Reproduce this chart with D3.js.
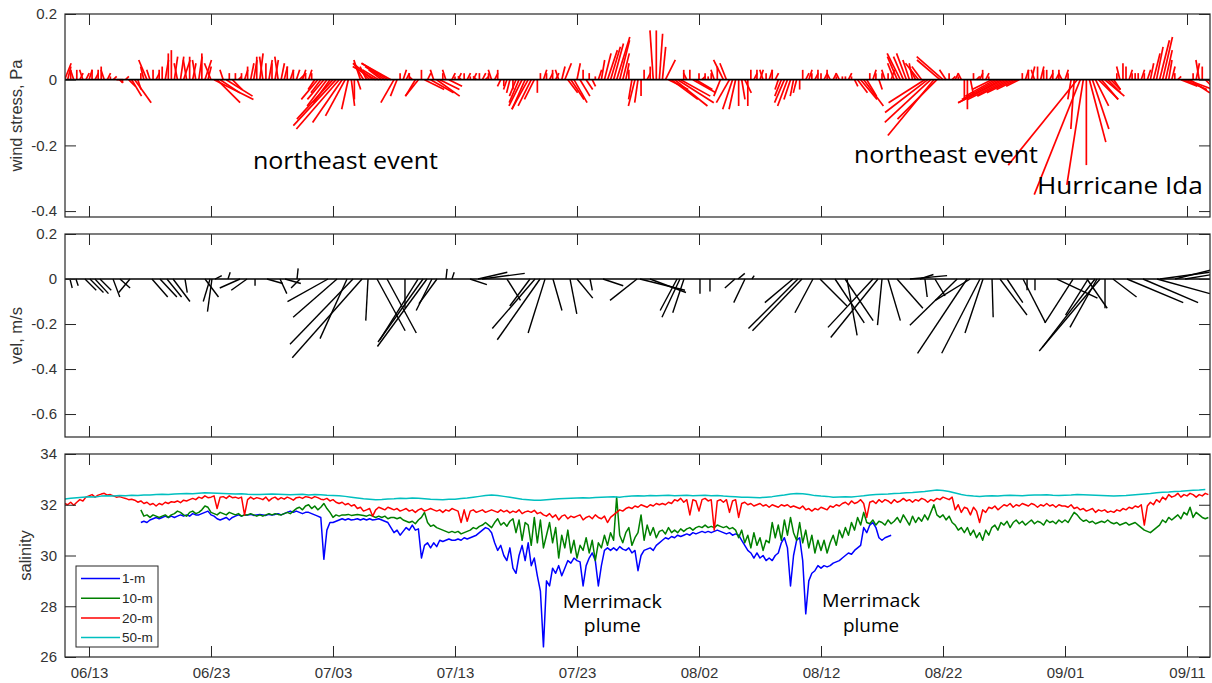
<!DOCTYPE html>
<html lang="en">
  <head>
    <meta charset="UTF-8" />
    <title>Wind stress, velocity and salinity</title>
    <script src="https://cdnjs.cloudflare.com/ajax/libs/d3/7.8.5/d3.min.js"></script>
    <style>
      body { margin: 0; background: #fff; }
      svg text { font-family: "Liberation Sans", Arial, sans-serif; }
      .note { font-family: "Open Sans", sans-serif; fill: #000; }
    </style>
  </head>
  <body>
    <div id="chart"></div>
    <script>
      // days are counted from 2021-06-11 00:00 UTC
      const tickDays = [2, 12, 22, 32, 42, 52, 62, 72, 82, 92];

      // wind stress sticks, every 6 h from day 0, hundredths of Pa
      const windStep = 0.25;
      const windU = [
        2,1,0,-1, 0,1,-1,1, 1,0,1,0, 0,-1,1,0, 1,2,1,0,
        1,2,3,5, 1,0,-1,-2.5, -1,0,1,0, 0,1,0,0, 1,-1,1,2,
        -1,0,1,-1, 1,0,2,1, -2,12,7,6, -1,8,0,3, 0,1,0,1,
        0,1,1,0, 1,-1,0,1, 0,1,-1,1, 1,0,1,0, 1,2,1,0,
        1,0,-2,-5, -3,-5,-6,-5, -11,-13,-13,-9, -6,-2,1,0, 1,-2,-3,-2,
        -3,-6,-7,-5, -4,-6,-8,-9, -4,-2,0,1, 1,0,-1,-3, -4,0,6,1,
        7,-1,7,6, 0,-1,4,1, 0,1,-1,0, 1,0,1,-1, 0,1,1,0,
        -1,1,0,-1, 0,-1,-1,0, -2,-3,-4,-4, -5,-4,-3,0, 0,1,0,1,
        0,1,-1,1, 2,3,4,4, 1,3,0,2, 0,1,0,1, 1,2,3,3,
        3,4,3,2, 1,0,-1,-2, -1,0,0,1, 0,-1,0,1, 1,3,6,8,
        10,11,9,0, -1,0,7,5, 0,1,0,0, 0,-1,0,-2, -3,-2,-4,-3,
        -2,0,1,2, 0,0,1,0, 1,-1,0,1, 0,1,-1,-2, -3,-3,-2,-1,
        -1,0,0,1, 1,0,1,0, 0,1,0,-1, 1,0,-1,0, 0,1,0,1,
        3,5,6,3, 0,1,0,1, 0,-1,0,1, -2,-3,-4,-3, -3,-2,-1,-2,
        -4,-3,-11,-13, -14,-14,-12,-7, -8,-2,0,1, 1,0,-1,0, 0,1,0,1,
        1,0,1,0, -6,-9,-11,-13, -14,-12,-10,-8, -6,-4,0,1, 0,1,-1,0,
        1,0,0,1, 0,1,0,-1, 1,0,-1,-1, -21,-14,-5,0, 5,5,4,6,
        5,6,4,3, 2,0,-1,0, 0,1,0,0, 0,1,0,1, 1,2,2,3,
        3,2,1,1, 0,1,5,7, 8,6,0,1, -1,0,3,2
      ];
      const windV = [
        5,4,3,3, 3,2,3,2, 3,3,2,3, 4,3,2,1, 1,0,-1,-1,
        1,-2,-5,-7, -3,2,4,6, 3,3,2,3, 4,6,8,9, 7,5,7,6,
        6,7,5,6, 7,8,6,4, 5,-6,-7,-4, 3,-5,2,-3, 2,1,2,3,
        4,5,6,7, 8,7,5,6, 5,6,7,5, 4,4,3,3, 3,2,3,2,
        3,2,-3,-6, -4,-6,-8,-7, -12,-14,-15,-13, -11,-9,-8,-6, -3,6,5,4,
        3,5,4,3, 3,4,5,5, -7,-5,2,3, 2,2,1,-5, -5,3,-3,2,
        -4,3,-5,-3, 2,3,-2,2, 1,2,1,2, 2,1,2,1, 2,2,1,2,
        3,2,3,-2, -2,-3,-4,-3, -5,-7,-8,-9, -9,-8,-6,-4, 2,3,2,2,
        3,2,3,4, 5,-4,-6,-7, 5,-5,3,-3, 2,-2,1,3, 6,8,9,10,
        11,13,12,8, 5,3,-6,-8, -7,-5,3,2, 4,15,15,14, 10,6,-3,-6,
        -8,-7,-5,3, 2,3,-4,-3, 2,1,2,1, 2,3,4,-5, 6,5,-7,-9,
        -9,-8,-6,-4, -8,3,2,3, 3,3,2,3, 3,2,-3,-5, -7,-8,-6,-5,
        -4,-3,3,2, 3,2,2,3, 2,2,3,2, 2,1,2,1, 1,2,1,-2,
        -4,-6,-8,-5, 2,3,2,-3, 2,3,2,3, 5,7,8,7, 8,6,5,4,
        5,4,-7,-10, -13,-17,-12,6, 7,3,2,1, 2,1,2,-6, -9,-5,2,1,
        2,3,2,1, -3,-5,-6,-7, -7,-6,-5,-4, -3,-2,2,3, 3,4,3,4,
        4,3,3,2, 3,2,3,2, 3,2,-6,-15, -26,-35,-32,-26, -19,-15,-8,-6,
        -6,-5,-4,-3, -3,2,4,5, 4,3,2,2, 2,3,2,3, 5,8,10,12,
        13,9,6,4, 2,1,-2,-3, -3,-4,2,5, 6,4,-3,-2
      ];

      // current velocity sticks, cm/s
      const velDay = [
        0.44,0.93,1.67,2.08,2.49,2.9,3.97,4.54,5.36,7.16,7.82,8.39,8.89,9.87,
        11.51,11.92,12.08,12.33,13.39,14.38,14.95,15.61,16.59,17.66,18.07,19.05,19.3,
        21.59,22.33,23.15,23.64,24.38,24.87,25.61,26.43,27.9,28.97,29.38,29.7,30.11,30.52,
        31.26,31.75,33.23,33.89,34.21,36.26,38.15,38.56,38.97,39.38,40.03,41.43,42.0,43.07,
        44.13,46.92,47.16,47.98,50.2,50.44,50.77,52.08,52.9,54.95,55.2,55.77,56.34,
        59.7,60.11,60.44,61.34,61.92,63.15,63.97,64.13,66.26,66.67,67.0,67.49,68.23,
        69.29,70.11,70.52,71.34,73.16,73.97,74.23,75.03,75.28,76.02,76.67,77.25,
        78.56,78.89,79.54,81.34,82.66,83.89,83.8,84.46,84.62,84.87,85.28,85.93,
        87.08,88.39,89.54,89.79,91.02,91.84
      ];
      const velU = [
        1,1,5,6,6,5,3,4.5,-5,7,7.5,6.5,7.5,1,
        6,-3,-2,3,1,-9,-7,0,7,3,7,0.5,-4,
        -18,-19.5,-12,-28,-31,-1,12.5,13,0,-17,-20,-22,-7,-8,
        0.5,1,7.5,13,19,6,-9,-19,-19,-7.5,4,3,7,1,
        9,-12,20,16,-7.5,-8,-5,0,0,-4.5,3,-5,1,
        -12.5,-22,-22,-8,12,13,12.5,4.5,-20,-21,-2,5.5,11.5,
        16.5,6,1,4.5,-21,-22,-15.5,-17,-8,0.5,12,7,
        10,0,0,18,-12.5,-10,9,-23.5,-12,-27,0,10.5,
        25,24.5,23.5,22,16,12
      ];
      const velV = [
        -4,-3,-5,-6,-6.5,-5,-8,-4,-6,-8,-8,-8,-10,-6,
        -8,-10,-14.5,1.5,3,-4,-5,-3,-2,-6.5,-2,4.7,-4,
        -10,-17,-26.5,-29,-35,-18.5,-23,-24,-13,-27,-28,-30,-14,-11,
        4.5,3,-2.5,3,2.5,-9.5,-12,-22,-27,-24,-14,-15.5,-8.5,-5,
        -3,-9.5,-5,-6,-14,-17,-15,-6.5,-5.5,-4,2.5,-10.5,1.5,
        -10.5,-22,-23,-15,-12,-19.5,-18.5,-25,-21.5,-26,-20.5,-18.5,-13,
        1.5,2,-8,-7.5,-20.5,-33,-9.5,-33,-24,-17,-16,-10.5,
        -19.5,-5,-5,-8.5,-19.5,-16,-13,-30.5,-21.5,-32,-13,-8,
        -10.5,-10.5,-6.5,3,4,2
      ];

      // salinity, every 6 h (50-m every 12 h)
      const salStart1 = 6.25;
      const sal1 = [
        31.3,31.35,31.3,
        31.4,31.45,31.5,31.45, 31.5,31.55,31.5,31.55, 31.5,31.55,31.6,31.55,
        31.6,31.55,31.65,31.6, 31.6,31.65,31.7,31.75, 31.6,31.55,31.45,31.4, 31.45,31.5,31.4,31.5, 31.55,31.6,31.55,31.6,
        31.6,31.62,31.58,31.6, 31.62,31.6,31.58,31.62, 31.6,31.62,31.65,31.6, 31.65,31.7,31.75,31.7, 31.75,31.7,31.65,31.7,
        31.7,31.65,31.6,31.55, 31.5,29.85,31.0,31.3, 31.3,31.35,31.4,31.45, 31.4,31.45,31.4,31.42, 31.45,31.4,31.45,31.4,
        31.45,31.4,31.42,31.45, 31.4,31.35,31.3,31.1, 30.9,31.0,30.8,30.95, 31.1,31.0,31.2,31.0, 31.05,29.9,30.4,30.5,
        30.3,30.5,30.35,30.6, 30.55,30.6,30.65,30.6, 30.6,30.65,30.6,30.7, 30.65,30.7,30.75,30.8, 30.9,31.0,31.1,31.05,
        30.9,30.5,30.2,30.4, 30.0,29.8,30.3,29.5, 29.3,30.0,30.4,29.8, 30.5,29.6,29.9,29.2, 28.6,26.4,29.0,28.8,
        29.5,29.3,29.6,29.2, 29.5,29.8,29.7,29.9, 29.8,29.75,28.8,29.6, 29.9,30.1,29.8,28.8, 29.6,30.2,30.3,30.2,
        30.3,30.2,30.35,30.25, 30.2,30.3,30.1,30.2, 29.4,30.0,30.2,30.25, 30.3,30.2,30.4,30.5, 30.6,30.7,30.65,30.75,
        30.7,30.8,30.75,30.8, 30.85,30.8,30.9,30.85, 30.9,30.95,30.9,30.95, 30.9,30.95,31.0,30.95, 30.9,30.85,30.9,30.8,
        30.85,30.8,30.6,30.4, 30.2,30.1,29.9,30.1, 29.9,30.0,29.8,29.9, 29.8,30.0,30.1,30.5, 30.7,30.3,28.8,30.0,
        30.6,30.7,29.8,27.7, 29.0,29.3,29.4,29.6, 29.5,29.6,29.55,29.6, 29.7,29.75,29.8,29.9, 30.0,30.1,30.05,30.2,
        30.3,30.4,31.1,30.9, 31.2,31.3,31.1,30.7, 30.6,30.7,30.75,30.8
      ];
      const salStart10 = 6.25;
      const sal10 = [
        31.8,31.55,31.6,
        31.5,31.6,31.55,31.5, 31.55,31.6,31.5,31.6, 31.65,31.75,31.7,31.6,
        31.55,31.7,31.75,31.65, 31.7,31.8,31.95,31.9, 31.7,31.65,31.6,31.7, 31.65,31.6,31.7,31.65, 31.6,31.65,31.55,31.6,
        31.6,31.65,31.6,31.55, 31.6,31.55,31.6,31.65, 31.6,31.65,31.62,31.6, 31.65,31.7,31.65,31.75, 31.85,31.9,31.8,31.95,
        32.0,31.85,31.95,31.8, 31.9,32.05,31.85,31.7, 31.5,31.6,31.55,31.6, 31.6,31.62,31.58,31.6, 31.62,31.6,31.58,31.55,
        31.6,31.55,31.5,31.55, 31.5,31.55,31.45,31.5, 31.5,31.45,31.5,31.4, 31.35,31.3,31.35,31.25, 31.4,31.5,31.7,31.3,
        31.15,31.2,31.1,31.05, 31.0,30.95,30.9,30.95, 30.9,30.95,30.85,30.9, 30.95,31.0,31.1,31.05, 31.15,31.2,31.3,31.2,
        31.1,31.3,31.45,31.2, 31.3,31.15,31.35,31.45, 30.9,31.4,30.6,31.3, 31.2,30.4,31.5,30.5, 31.4,30.3,30.8,31.3,
        30.5,31.1,29.9,30.8, 30.3,31.0,30.1,30.6, 29.9,30.4,30.2,30.7, 30.1,30.6,29.8,30.5, 30.3,30.8,30.4,30.9,
        30.6,32.3,30.8,30.5, 30.9,31.1,30.4,30.7, 30.9,31.6,30.6,31.2, 30.8,31.1,30.7,30.95, 31.0,30.85,31.1,30.9,
        31.0,30.9,31.05,30.95, 31.05,31.1,31.0,31.1, 31.15,31.1,31.2,31.1, 31.15,31.1,31.2,31.15, 31.1,31.15,31.05,31.1,
        31.0,30.7,31.0,30.5, 30.8,30.3,30.9,30.4, 30.7,30.2,30.6,30.5, 31.3,30.7,31.2,30.6, 31.4,30.8,31.5,30.9,
        30.6,31.3,30.5,31.0, 30.3,30.8,30.1,30.6, 30.2,30.6,30.1,30.5, 30.8,30.4,31.0,30.7, 31.1,30.8,31.3,31.0,
        31.5,31.2,31.7,31.3, 31.25,31.4,31.2,31.35, 31.3,31.2,31.4,31.25, 31.35,31.5,31.3,31.6, 31.4,31.2,31.55,31.3,
        31.5,31.35,31.6,31.4, 31.7,32.0,31.6,31.5, 31.6,31.4,31.55,31.3, 31.2,31.0,31.1,30.9, 31.1,30.8,31.0,30.7,
        30.9,30.6,31.0,30.8, 31.1,31.2,31.0,31.3, 31.2,31.35,31.1,31.3, 31.4,31.25,31.35,31.2, 31.3,31.4,31.25,31.35,
        31.3,31.2,31.4,31.3, 31.35,31.25,31.4,31.3, 31.4,31.3,31.5,31.7, 31.6,31.45,31.35,31.4, 31.3,31.35,31.25,31.3,
        31.35,31.3,31.4,31.3, 31.25,31.3,31.2,31.25, 31.3,31.2,31.25,31.3, 31.2,31.1,31.0,30.95, 30.9,31.0,31.1,31.2,
        31.4,31.3,31.5,31.4, 31.5,31.6,31.45,31.7, 31.6,31.9,31.5,31.7, 31.6,31.5,31.45,31.5
      ];
      const salStart20 = 0;
      const sal20 = [
        32.05,32.0,32.1,31.98, 32.1,32.2,32.15,32.3, 32.35,32.4,32.3,32.38, 32.42,32.45,32.38,32.4, 32.35,32.3,32.32,32.28,
        32.25,32.2,32.22,32.18, 32.1,32.15,32.05,32.1, 32.0,32.05,31.95,32.05, 32.0,32.1,32.05,32.12, 32.1,32.15,32.08,32.18,
        32.15,32.2,32.25,32.2, 32.3,32.25,32.35,32.28, 32.3,32.35,31.85,32.3, 32.32,32.25,32.35,32.28, 32.3,32.25,32.3,31.6,
        32.2,32.3,32.22,32.28, 32.25,32.2,32.3,32.15, 32.25,32.3,32.2,32.28, 32.22,32.3,32.25,32.18, 32.28,32.3,32.25,32.32,
        32.3,32.25,32.32,32.28, 32.22,32.2,32.25,32.15, 32.2,32.1,32.05,32.1, 32.0,32.05,31.95,32.0, 31.85,31.9,31.75,31.8,
        31.85,31.55,31.8,31.9, 31.85,31.8,31.9,31.85, 31.8,31.85,31.75,31.8, 31.85,31.75,31.8,31.7, 31.8,31.85,31.75,31.8,
        31.85,31.8,31.75,31.8, 31.7,31.8,31.75,31.85, 31.8,31.75,31.3,31.8, 31.35,31.75,31.8,31.7, 31.75,31.8,31.7,31.75,
        31.8,31.75,31.7,31.8, 31.72,31.78,31.68,31.75, 31.7,31.8,31.65,31.72, 31.75,31.7,31.78,31.65, 31.7,31.6,31.55,31.65,
        31.5,31.6,31.4,31.55, 31.6,31.45,31.55,31.5, 31.55,31.6,31.4,31.5, 31.55,31.45,31.6,31.5, 31.45,31.55,31.3,31.5,
        31.6,31.7,31.8,31.75, 31.85,31.9,31.85,31.95, 31.9,32.0,31.95,31.9, 32.0,31.95,32.05,32.0, 32.05,32.0,32.1,32.05,
        32.2,32.15,32.25,32.1, 32.2,31.6,32.2,32.15, 31.75,32.2,32.25,32.15, 32.2,31.0,32.15,32.2, 32.1,32.2,31.7,32.15,
        32.2,31.5,32.05,32.1, 32.0,32.05,31.95,32.0, 32.05,31.95,32.0,31.9, 32.0,31.95,31.9,32.0, 31.95,32.0,31.9,31.95,
        31.9,31.85,31.95,31.8, 31.85,31.75,31.85,31.8, 31.9,31.85,31.8,31.95, 31.9,32.0,31.95,32.05, 32.1,32.0,32.15,32.05,
        32.1,32.2,32.05,31.5, 32.1,32.15,32.05,32.2, 32.1,32.2,32.15,32.05, 32.2,32.1,32.15,32.25, 32.15,32.2,32.1,32.2,
        32.15,32.25,32.2,32.1, 32.2,32.15,32.25,32.2, 32.3,32.25,32.2,32.3, 31.8,32.0,31.7,31.9, 31.85,31.6,31.9,31.75,
        31.3,31.8,31.7,31.9, 31.85,31.95,31.8,31.9, 32.0,31.95,32.05,31.9, 32.0,31.95,32.05,32.0, 31.95,32.05,32.0,31.9,
        32.0,31.95,32.05,31.95, 32.0,31.9,32.0,31.95, 31.95,31.9,32.0,31.85, 31.9,31.8,31.85,31.75, 31.8,31.85,31.7,31.8,
        31.75,31.8,31.7,31.75, 31.7,31.8,31.75,31.85, 31.8,31.9,31.85,31.95, 31.9,32.0,31.2,31.95, 32.1,32.0,32.2,32.1,
        32.3,32.2,32.4,32.3, 32.35,32.45,32.3,32.4, 32.35,32.45,32.4,32.3, 32.4,32.35,32.45,32.4
      ];
      const salStart50 = 0;
      const sal50 = [
        32.22,32.26, 32.28,32.30, 32.32,32.31, 32.34,32.35, 32.34,32.36,
        32.35,32.37, 32.36,32.38, 32.38,32.40, 32.41,32.40, 32.42,32.43,
        32.44,32.43, 32.45,32.47, 32.46,32.45, 32.44,32.43, 32.42,32.43,
        32.41,32.40, 32.40,32.41, 32.42,32.41, 32.40,32.39, 32.40,32.41,
        32.38,32.40, 32.39,32.37, 32.36,32.35, 32.33,32.30, 32.27,32.24,
        32.22,32.20, 32.21,32.23, 32.24,32.26, 32.25,32.27, 32.26,32.24,
        32.22,32.21, 32.20,32.22, 32.22,32.25, 32.27,32.30, 32.33,32.36,
        32.38,32.36, 32.33,32.30, 32.26,32.22, 32.20,32.18, 32.18,32.20,
        32.22,32.24, 32.25,32.26, 32.27,32.28, 32.27,32.29, 32.30,32.31,
        32.32,32.30, 32.33,32.34, 32.35,32.34, 32.36,32.35, 32.36,32.37,
        32.35,32.36, 32.37,32.35, 32.36,32.37, 32.35,32.36, 32.34,32.33,
        32.32,32.30, 32.30,32.29, 32.28,32.30, 32.32,32.35, 32.38,32.42,
        32.44,32.43, 32.40,32.36, 32.34,32.33, 32.30,32.31, 32.32,32.31,
        32.33,32.35, 32.38,32.40, 32.41,32.42, 32.44,32.45, 32.47,32.48,
        32.50,32.52, 32.55,32.58, 32.56,32.52, 32.46,32.40, 32.36,32.34,
        32.33,32.34, 32.35,32.34, 32.36,32.37, 32.36,32.35, 32.37,32.38,
        32.38,32.39, 32.37,32.36, 32.37,32.38, 32.40,32.39, 32.38,32.37,
        32.36,32.35, 32.34,32.35, 32.36,32.38, 32.40,32.42, 32.44,32.47,
        32.49,32.50, 32.52,32.53, 32.55,32.57, 32.58,32.60
      ];

      const seriesNames = ["1-m", "10-m", "20-m", "50-m"];
      const seriesColors = ["#0000ff", "#008000", "#ff0000", "#00bfbf"];

      const width = 1212;
      const height = 683;
      const left = 65;
      const right = 1210;

      const t0 = Date.UTC(2021, 5, 11);
      const toDate = (d) => new Date(t0 + d * 864e5);
      const x = d3.scaleUtc().domain([toDate(0.033), toDate(93.885)]).range([left, right]);
      const tickDates = tickDays.map(toDate);

      const svg = d3.select("#chart").append("svg")
        .attr("width", width).attr("height", height);

      const axisColor = "#262626";
      const yFmt = (d) => String(d);

      function panel(top, bottom, domain, ticks, label, labelX, showDates, id) {
        const y = d3.scaleLinear().domain(domain).range([bottom, top]);
        svg.append("clipPath").attr("id", id)
          .append("rect").attr("x", left).attr("y", top)
          .attr("width", right - left).attr("height", bottom - top);
        const plot = svg.append("g").attr("clip-path", `url(#${id})`);

        const style = (g) => {
          g.attr("font-size", 15).attr("font-family", "Liberation Sans, Arial, sans-serif")
            .attr("color", axisColor);
          g.select(".domain").remove();
          g.selectAll("text").attr("fill", "#333");
        };
        svg.append("g").attr("transform", `translate(${left},0)`)
          .call(d3.axisLeft(y).tickValues(ticks).tickSize(-11).tickSizeOuter(0).tickPadding(8).tickFormat(yFmt))
          .call(style);
        svg.append("g").attr("transform", `translate(${right},0)`)
          .call(d3.axisRight(y).tickValues(ticks).tickSize(-11).tickSizeOuter(0).tickFormat(""))
          .call(style);
        svg.append("g").attr("transform", `translate(0,${top})`)
          .call(d3.axisTop(x).tickValues(tickDates).tickSize(-11).tickSizeOuter(0).tickFormat(""))
          .call(style);
        svg.append("g").attr("transform", `translate(0,${bottom})`)
          .call(d3.axisBottom(x).tickValues(tickDates).tickSize(-11).tickSizeOuter(0).tickPadding(10)
            .tickFormat(showDates ? d3.utcFormat("%m/%d") : ""))
          .call(style);

        svg.append("rect")
          .attr("x", left).attr("y", top)
          .attr("width", right - left).attr("height", bottom - top)
          .attr("fill", "none").attr("stroke", axisColor).attr("stroke-width", 1.2);

        svg.append("text")
          .attr("transform", `translate(${labelX},${(top + bottom) / 2}) rotate(-90)`)
          .attr("text-anchor", "middle")
          .attr("font-size", 16.5)
          .attr("fill", "#333")
          .text(label);

        return { y, plot };
      }

      function sticks(p, t, u, v, color, lw) {
        const k = p.y(0) - p.y(1);
        p.plot.append("g").selectAll("line")
          .data(d3.range(u.length))
          .join("line")
          .attr("x1", (i) => x(toDate(t(i))))
          .attr("y1", p.y(0))
          .attr("x2", (i) => x(toDate(t(i))) + (u[i] / 100) * k)
          .attr("y2", (i) => p.y(v[i] / 100))
          .attr("stroke", color)
          .attr("stroke-width", lw);
        p.plot.append("line")
          .attr("x1", left).attr("x2", right)
          .attr("y1", p.y(0)).attr("y2", p.y(0))
          .attr("stroke", "#000").attr("stroke-width", 1.7);
      }

      // panel 1: wind stress
      const p1 = panel(14, 217, [-0.418, 0.2], [-0.4, -0.2, 0, 0.2], "wind stress, Pa", 22, false, "c1");
      sticks(p1, (i) => i * windStep, windU, windV, "#ff0000", 1.7);

      // panel 2: velocity
      const p2 = panel(234, 437, [-0.702, 0.2], [-0.6, -0.4, -0.2, 0, 0.2], "vel, m/s", 22, false, "c2");
      sticks(p2, (i) => velDay[i], velU, velV, "#000", 1.4);

      // panel 3: salinity
      const p3 = panel(454, 657, [26, 34], [26, 28, 30, 32, 34], "salinity", 31, true, "c3");
      const salSeries = [
        { start: salStart1, step: 0.25, values: sal1 },
        { start: salStart10, step: 0.25, values: sal10 },
        { start: salStart20, step: 0.25, values: sal20 },
        { start: salStart50, step: 0.5, values: sal50 },
      ];
      salSeries.forEach((s, j) => {
        const line = d3.line()
          .x((d, i) => x(toDate(s.start + i * s.step)))
          .y((d) => p3.y(d));
        p3.plot.append("path")
          .attr("d", line(s.values))
          .attr("fill", "none")
          .attr("stroke", seriesColors[j])
          .attr("stroke-width", 1.5)
          .attr("stroke-linejoin", "round");
      });

      // legend
      const lg = svg.append("g").attr("transform", "translate(76,566)");
      lg.append("rect").attr("width", 82).attr("height", 81)
        .attr("fill", "#fff").attr("stroke", axisColor).attr("stroke-width", 1);
      seriesNames.forEach((name, i) => {
        const yy = 12.5 + i * 19.7;
        lg.append("line").attr("x1", 5).attr("x2", 44).attr("y1", yy).attr("y2", yy)
          .attr("stroke", seriesColors[i]).attr("stroke-width", 1.5);
        lg.append("text").attr("x", 46).attr("y", yy).attr("dy", "0.36em")
          .attr("font-size", 13.5).attr("fill", "#262626").text(name);
      });

      // annotations
      const notes = [
        { p: p1, day: 15.44, v: -0.271, text: "northeast event", len: 185, anchor: "start", size: 23 },
        { p: p1, day: 64.7, v: -0.253, text: "northeast event", len: 184, anchor: "start", size: 23 },
        { p: p1, day: 79.7, v: -0.347, text: "Hurricane Ida", len: 166, anchor: "start", size: 23 },
        { p: p3, day: 44.9, v: 27.93, text: "Merrimack", len: 99, anchor: "middle", size: 18.5 },
        { p: p3, day: 44.9, v: 26.99, text: "plume", len: 57, anchor: "middle", size: 18.5 },
        { p: p3, day: 66.1, v: 27.97, text: "Merrimack", len: 98, anchor: "middle", size: 18.5 },
        { p: p3, day: 66.1, v: 26.99, text: "plume", len: 56, anchor: "middle", size: 18.5 },
      ];
      notes.forEach((n) => {
        svg.append("text")
          .attr("class", "note")
          .attr("x", x(toDate(n.day)))
          .attr("y", n.p.y(n.v))
          .attr("text-anchor", n.anchor)
          .attr("font-size", n.size)
          .attr("textLength", n.len)
          .attr("lengthAdjust", "spacingAndGlyphs")
          .text(n.text);
      });
    </script>
  </body>
</html>
